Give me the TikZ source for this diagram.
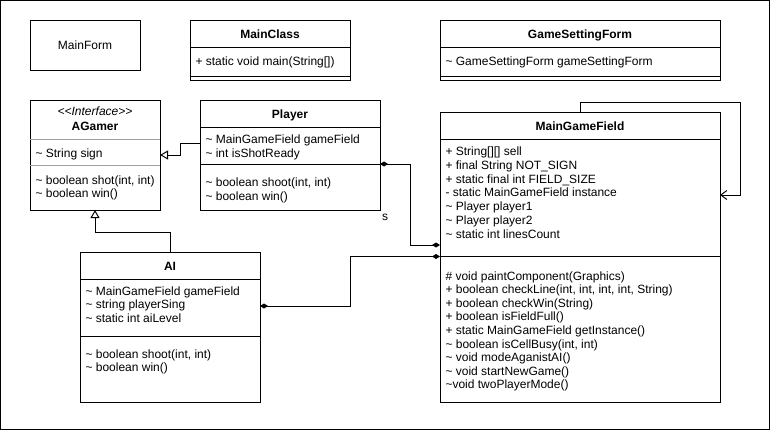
\documentclass[tikz,border=0pt]{standalone}
\usepackage{fontspec}
\setmainfont{Liberation Sans}
\usepackage{tikz}
\usetikzlibrary{arrows.meta, calc}

\definecolor{hrgray}{HTML}{A0A0A0}

\begin{document}
\begin{tikzpicture}[x=1pt, y=-1pt, line width=1pt,
    umlbox/.style={draw, anchor=north west, inner sep=0pt, outer sep=0pt},
    title/.style={anchor=base, inner sep=0pt, font=\fontsize{12}{14}\selectfont\bfseries},
    member/.style={anchor=base west, inner sep=0pt, font=\fontsize{12}{14}\selectfont},
    realize/.style={arrows={-Triangle[open, length=8pt, width=9pt]}},
    compose/.style={arrows={Diamond[length=8pt, width=5pt]-Diamond[length=8pt, width=5pt]}},
    selfref/.style={arrows={-Straight Barb[length=6pt, width=9pt]}}]

  \useasboundingbox (0,0) rectangle (771,431);
  \draw (0.5,0.5) rectangle (769.5,429.5);

  \pgfmathsetmacro{\lh}{13.8}

  % class boxes
  \node[umlbox, minimum width=110, minimum height=50, anchor=center,
        font=\fontsize{12}{14}\selectfont] (mainform) at (85,45) {MainForm};
  \node[umlbox, minimum width=160, minimum height=60] (mainclass) at (190,20) {};
  \node[umlbox, minimum width=280, minimum height=60] (gamesetting) at (440,20) {};
  \node[umlbox, minimum width=130, minimum height=110] (agamer) at (30,100) {};
  \node[umlbox, minimum width=180, minimum height=110] (player) at (200,100) {};
  \node[umlbox, minimum width=180, minimum height=150] (ai) at (80,252) {};
  \node[umlbox, minimum width=280, minimum height=290] (mgf) at (440,112) {};

  % section lines
  \foreach \nd/\dy in {mainclass/27, mainclass/56, gamesetting/27, gamesetting/56,
                       player/27, player/64, ai/27, ai/84, mgf/27, mgf/144.5}
    \draw ($(\nd.north west)+(0,\dy)$) -- ($(\nd.north east)+(0,\dy)$);
  \foreach \dy in {39.5, 65.5}
    \draw[hrgray] ($(agamer.north west)+(0,\dy)$) -- ($(agamer.north east)+(0,\dy)$);

  % titles
  \node[title] (mainclass-t) at (270,38.5) {MainClass};
  \node[title] (gamesetting-t) at (580,38.5) {GameSettingForm};
  \node[title, font=\fontsize{12}{14}\selectfont\itshape] (agamer-s) at (95,115) {<{}<Interface>{}>};
  \node[title] (agamer-t) at (95,130) {AGamer};
  \node[title] (player-t) at (290,118.5) {Player};
  \node[title] (ai-t) at (170,270.5) {AI};
  \node[title] (mgf-t) at (580,130.5) {MainGameField};

  % members
  \node[member] (mainclass-a1) at (195,65) {+ static void main(String[])};
  \node[member] (gamesetting-a1) at (445,65) {\textasciitilde{} GameSettingForm gameSettingForm};

  \node[member] (agamer-a1) at (35,157.5) {\textasciitilde{} String sign};
  \foreach \txt [count=\n] in {{\textasciitilde{} boolean shot(int, int)}, {\textasciitilde{} boolean win()}}
    \node[member] (agamer-m\n) at (35, {184+\lh*(\n-1)}) {\txt};

  \foreach \txt [count=\n] in {{\textasciitilde{} MainGameField gameField}, {\textasciitilde{} int isShotReady}}
    \node[member] (player-a\n) at (205, {143.5+\lh*(\n-1)}) {\txt};
  \foreach \txt [count=\n] in {{\textasciitilde{} boolean shoot(int, int)}, {\textasciitilde{} boolean win()}}
    \node[member] (player-m\n) at (205, {186.5+\lh*(\n-1)}) {\txt};

  \foreach \txt [count=\n] in {{\textasciitilde{} MainGameField gameField}, {\textasciitilde{} string playerSing},
                               {\textasciitilde{} static int aiLevel}}
    \node[member] (ai-a\n) at (85, {295+\lh*(\n-1)}) {\txt};
  \foreach \txt [count=\n] in {{\textasciitilde{} boolean shoot(int, int)}, {\textasciitilde{} boolean win()}}
    \node[member] (ai-m\n) at (85, {358+\lh*(\n-1)}) {\txt};

  \foreach \txt [count=\n] in {{+ String[][] sell}, {+ final String NOT\_SIGN},
                               {+ static final int FIELD\_SIZE}, {- static MainGameField instance},
                               {\textasciitilde{} Player player1}, {\textasciitilde{} Player player2},
                               {\textasciitilde{} static int linesCount}}
    \node[member] (mgf-a\n) at (445, {155.5+\lh*(\n-1)}) {\txt};
  \foreach \txt [count=\n] in {{\# void paintComponent(Graphics)},
                               {+ boolean checkLine(int, int, int, int, String)},
                               {+ boolean checkWin(String)}, {+ boolean isFieldFull()},
                               {+ static MainGameField getInstance()},
                               {\textasciitilde{} boolean isCellBusy(int, int)},
                               {\textasciitilde{} void modeAganistAI()},
                               {\textasciitilde{} void startNewGame()},
                               {\textasciitilde void twoPlayerMode()}}
    \node[member] (mgf-m\n) at (445, {280+13.6*(\n-1)}) {\txt};

  % relations
  \draw[realize] ($(player.north west)+(0,43)$) -- ++(-20,0) |- (agamer.east);
  \draw[realize] (ai.north) -- ++(0,-20) -| (agamer.south);
  \draw[compose] ($(player.north east)+(0,64)$) -- ++(30,0) |- ($(mgf.north west)+(0,133)$);
  \draw[compose] ($(ai.north east)+(0,54)$) -- ++(90,0) |- ($(mgf.north west)+(0,144.5)$);
  \draw[selfref] (mgf.north) -- ++(0,-10) -- ++(160,0) |- ($(mgf.north east)+(0,83)$);
  \node[inner sep=0pt, font=\fontsize{12}{14}\selectfont] (slabel) at (385,217) {s};

\end{tikzpicture}
\end{document}
